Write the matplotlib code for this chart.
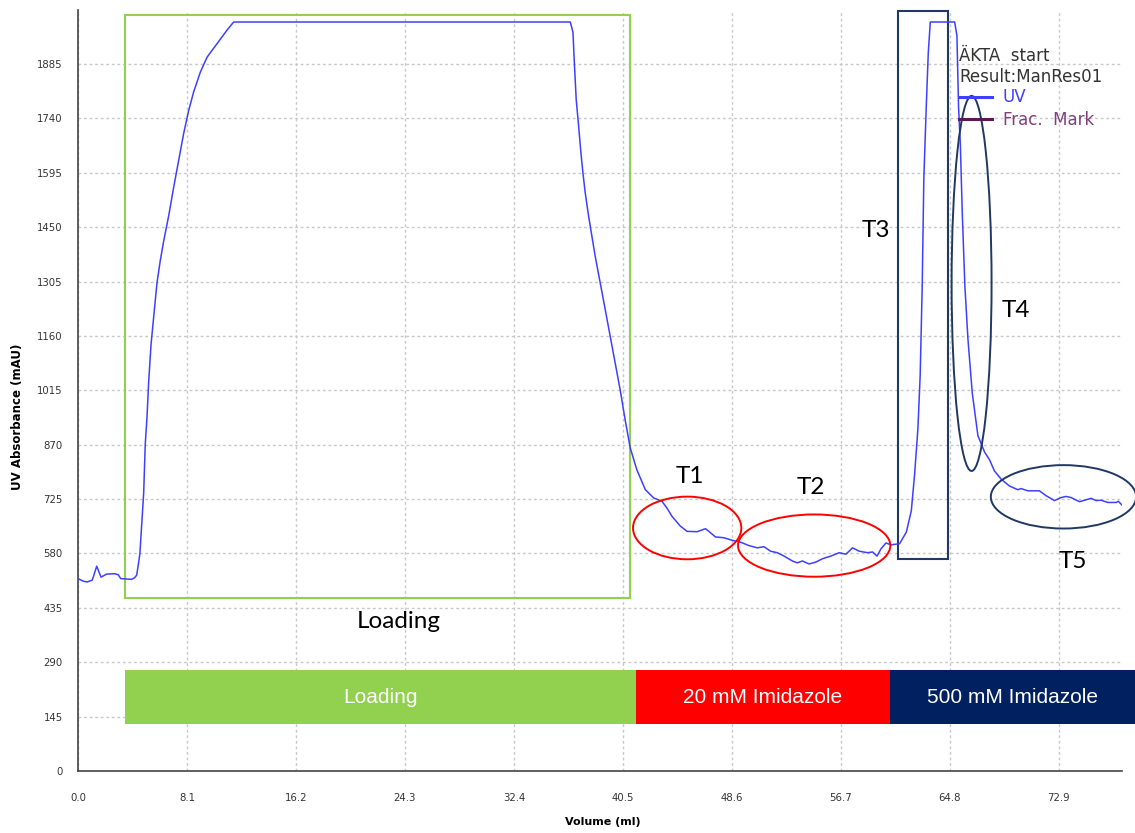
import matplotlib.pyplot as plt
from matplotlib.patches import Rectangle, Ellipse
from matplotlib.lines import Line2D

# UV trace of the run (volume in ml, absorbance in mAU)
volume = [0.0, 0.4, 0.69, 1.06, 1.39, 1.71, 2.13, 2.75, 3.0, 3.17, 3.62, 3.97, 4.2, 4.36,
          4.51, 4.6, 4.68, 4.78, 4.88, 5.0, 5.13, 5.25, 5.43, 5.62, 5.87, 6.12, 6.37, 6.74,
          7.11, 7.48, 7.85, 8.22, 8.6, 9.09, 9.59, 10.33, 11.07, 11.57, 36.59, 36.79, 36.88,
          37.03, 37.21, 37.38, 37.53, 37.7, 37.95, 38.2, 38.44, 38.82, 39.19, 39.56, 39.93,
          40.3, 40.67, 41.05, 41.54, 42.17, 42.79, 43.41, 43.78, 44.15, 44.77, 45.27, 46.02,
          46.64, 46.89, 47.38, 48.0, 48.63, 49.25, 49.87, 50.49, 50.99, 51.48, 51.98, 52.48,
          53.1, 53.47, 53.84, 54.34, 54.84, 55.34, 55.96, 56.58, 57.08, 57.57, 58.07, 58.69,
          59.06, 59.39, 59.68, 60.06, 60.43, 61.07, 61.57, 61.94, 62.18, 62.43, 62.6, 62.75,
          62.87, 63.05, 63.2, 63.35, 65.16, 65.33, 65.45, 65.58, 65.73, 65.92, 66.15, 66.47,
          66.89, 67.39, 67.75, 68.12, 68.62, 69.23, 69.85, 70.1, 70.6, 71.46, 71.96, 72.58,
          73.07, 73.45, 73.82, 74.44, 74.93, 75.3, 75.67, 76.05, 76.54, 77.16, 77.33, 77.6]
uv = [513, 506, 504, 509, 546, 517, 525, 526, 523, 513, 512, 511, 515, 522,
      556, 580, 627, 690, 740, 872, 944, 1036, 1138, 1209, 1301, 1362, 1413, 1480,
      1556, 1628, 1699, 1760, 1811, 1863, 1903, 1939, 1975, 1997, 1997, 1970, 1898,
      1791, 1720, 1649, 1595, 1542, 1480, 1426, 1373, 1301, 1230, 1159, 1088,
      1016, 936, 861, 803, 750, 728, 719, 701, 679, 653, 639, 638,
      646, 639, 624, 622, 615, 610, 601, 595, 598, 586, 582, 573,
      560, 555, 560, 552, 557, 566, 573, 582, 578, 595, 586, 582,
      584, 573, 592, 608, 603, 606, 637, 694, 789, 913, 1056, 1294,
      1580, 1771, 1914, 1997, 1997, 1961, 1771, 1675, 1485, 1294, 1151, 1008,
      894, 850, 830, 800, 778, 760, 750, 753, 747, 747, 734, 721,
      729, 732, 729, 718, 723, 727, 721, 722, 716, 716, 719, 709]

yticks = [0, 145, 290, 435, 580, 725, 870, 1015, 1160, 1305, 1450, 1595, 1740, 1885]
xticks = [0.0, 8.1, 16.2, 24.3, 32.4, 40.5, 48.6, 56.7, 64.8, 72.9]

# buffer steps shown as coloured bands
steps = ['Loading', '20 mM Imidazole', '500 mM Imidazole']
step_start = [3.51, 41.46, 60.33]
step_end = [41.46, 60.33, 78.55]
step_colors = ['#92d050', '#ff0000', '#002060']

# tagged regions: label, centre (ml, mAU), width, height
fractions = ['T1', 'T2', 'T4', 'T5']
frac_x = [45.28, 54.72, 66.42, 73.25]
frac_y = [648, 601, 1300, 731]
frac_w = [8.05, 11.32, 2.97, 10.8]
frac_h = [167, 166, 1000, 169]
frac_colors = ['#ff0000', '#ff0000', '#1f3864', '#1f3864']

tag_labels = ['T1', 'T2', 'T3', 'T4', 'T5', 'Loading']
tag_x = [45.47, 54.46, 59.29, 69.69, 73.92, 23.85]
tag_y = [768, 739, 1424, 1211, 541, 381]

fig = plt.figure(figsize=(11.35, 8.33), dpi=100)
ax = fig.add_axes([78 / 1135, 62 / 833, 1044 / 1135, 761 / 833])

ax.set_xlim(0, 77.6)
ax.set_ylim(0, 2029)
ax.set_xticks(xticks)
ax.set_xticklabels([f'{v:.1f}' for v in xticks])
ax.set_yticks(yticks)
ax.grid(True, color='#c8c8c8', linestyle=(0, (2, 2)), linewidth=1)
ax.set_axisbelow(True)
ax.tick_params(length=0, labelsize=7.3, labelcolor='#333333')
ax.tick_params(axis='x', pad=16)
ax.tick_params(axis='y', pad=11)
for s in ['top', 'right']:
    ax.spines[s].set_visible(False)
for s in ['left', 'bottom']:
    ax.spines[s].set_color('#444444')
    ax.spines[s].set_linewidth(1.2)

ax.set_xlabel('Volume (ml)', fontsize=8, fontweight='bold')
ax.set_ylabel('UV Absorbance (mAU)', fontsize=8.5, fontweight='bold')
ax.xaxis.set_label_coords(0.503, -0.061)
ax.yaxis.set_label_coords(-0.052, 0.465)

ax.plot(volume, uv, color='#3f3fff', linewidth=1.1, zorder=4)

# coloured step bands below the trace
for name, x0, x1, c in zip(steps, step_start, step_end, step_colors):
    ax.add_patch(Rectangle((x0, 125), x1 - x0, 144, facecolor=c, edgecolor='none',
                           clip_on=False, zorder=3))
    ax.text((x0 + min(x1, 77.6 + 0.95)) / 2, 195, name, color='white', fontsize=15,
            family='Liberation Sans', ha='center', va='center', zorder=5)

# loading window and T3 peak boxes
ax.add_patch(Rectangle((3.51, 461), 41.0 - 3.51, 2016 - 461, fill=False,
                       edgecolor='#92d050', linewidth=1.5, zorder=3))
ax.add_patch(Rectangle((60.93, 566), 64.7 - 60.93, 2027 - 566, fill=False,
                       edgecolor='#1f3864', linewidth=1.5, zorder=3, clip_on=False))

for name, cx, cy, w, h, c in zip(fractions, frac_x, frac_y, frac_w, frac_h, frac_colors):
    ax.add_patch(Ellipse((cx, cy), w, h, fill=False, edgecolor=c, linewidth=1.4,
                         zorder=5, clip_on=False))

for name, tx, ty in zip(tag_labels, tag_x, tag_y):
    ax.text(tx, ty, name, fontsize=17.5, family='Lato', ha='center', va='baseline',
            color='black', zorder=6)

# run legend
fig.text(959 / 1135, 1 - 61 / 833, 'ÄKTA  start', fontsize=12, color='#333333',
         va='baseline')
fig.text(959 / 1135, 1 - 82 / 833, 'Result:ManRes01', fontsize=12, color='#333333',
         va='baseline')
fig.add_artist(Line2D([959 / 1135, 992 / 1135], [1 - 97 / 833, 1 - 97 / 833],
                      color='#3f3fff', linewidth=2.2, zorder=7))
fig.add_artist(Line2D([959 / 1135, 992 / 1135], [1 - 119 / 833, 1 - 119 / 833],
                      color='#5a1a5a', linewidth=2.2, zorder=7))
fig.text(1003 / 1135, 1 - 102 / 833, 'UV', fontsize=12, color='#3f3fff', va='baseline')
fig.text(1003 / 1135, 1 - 125 / 833, 'Frac.  Mark', fontsize=12, color='#7f3f7f',
         va='baseline')

fig.savefig('out.png', dpi=100)
